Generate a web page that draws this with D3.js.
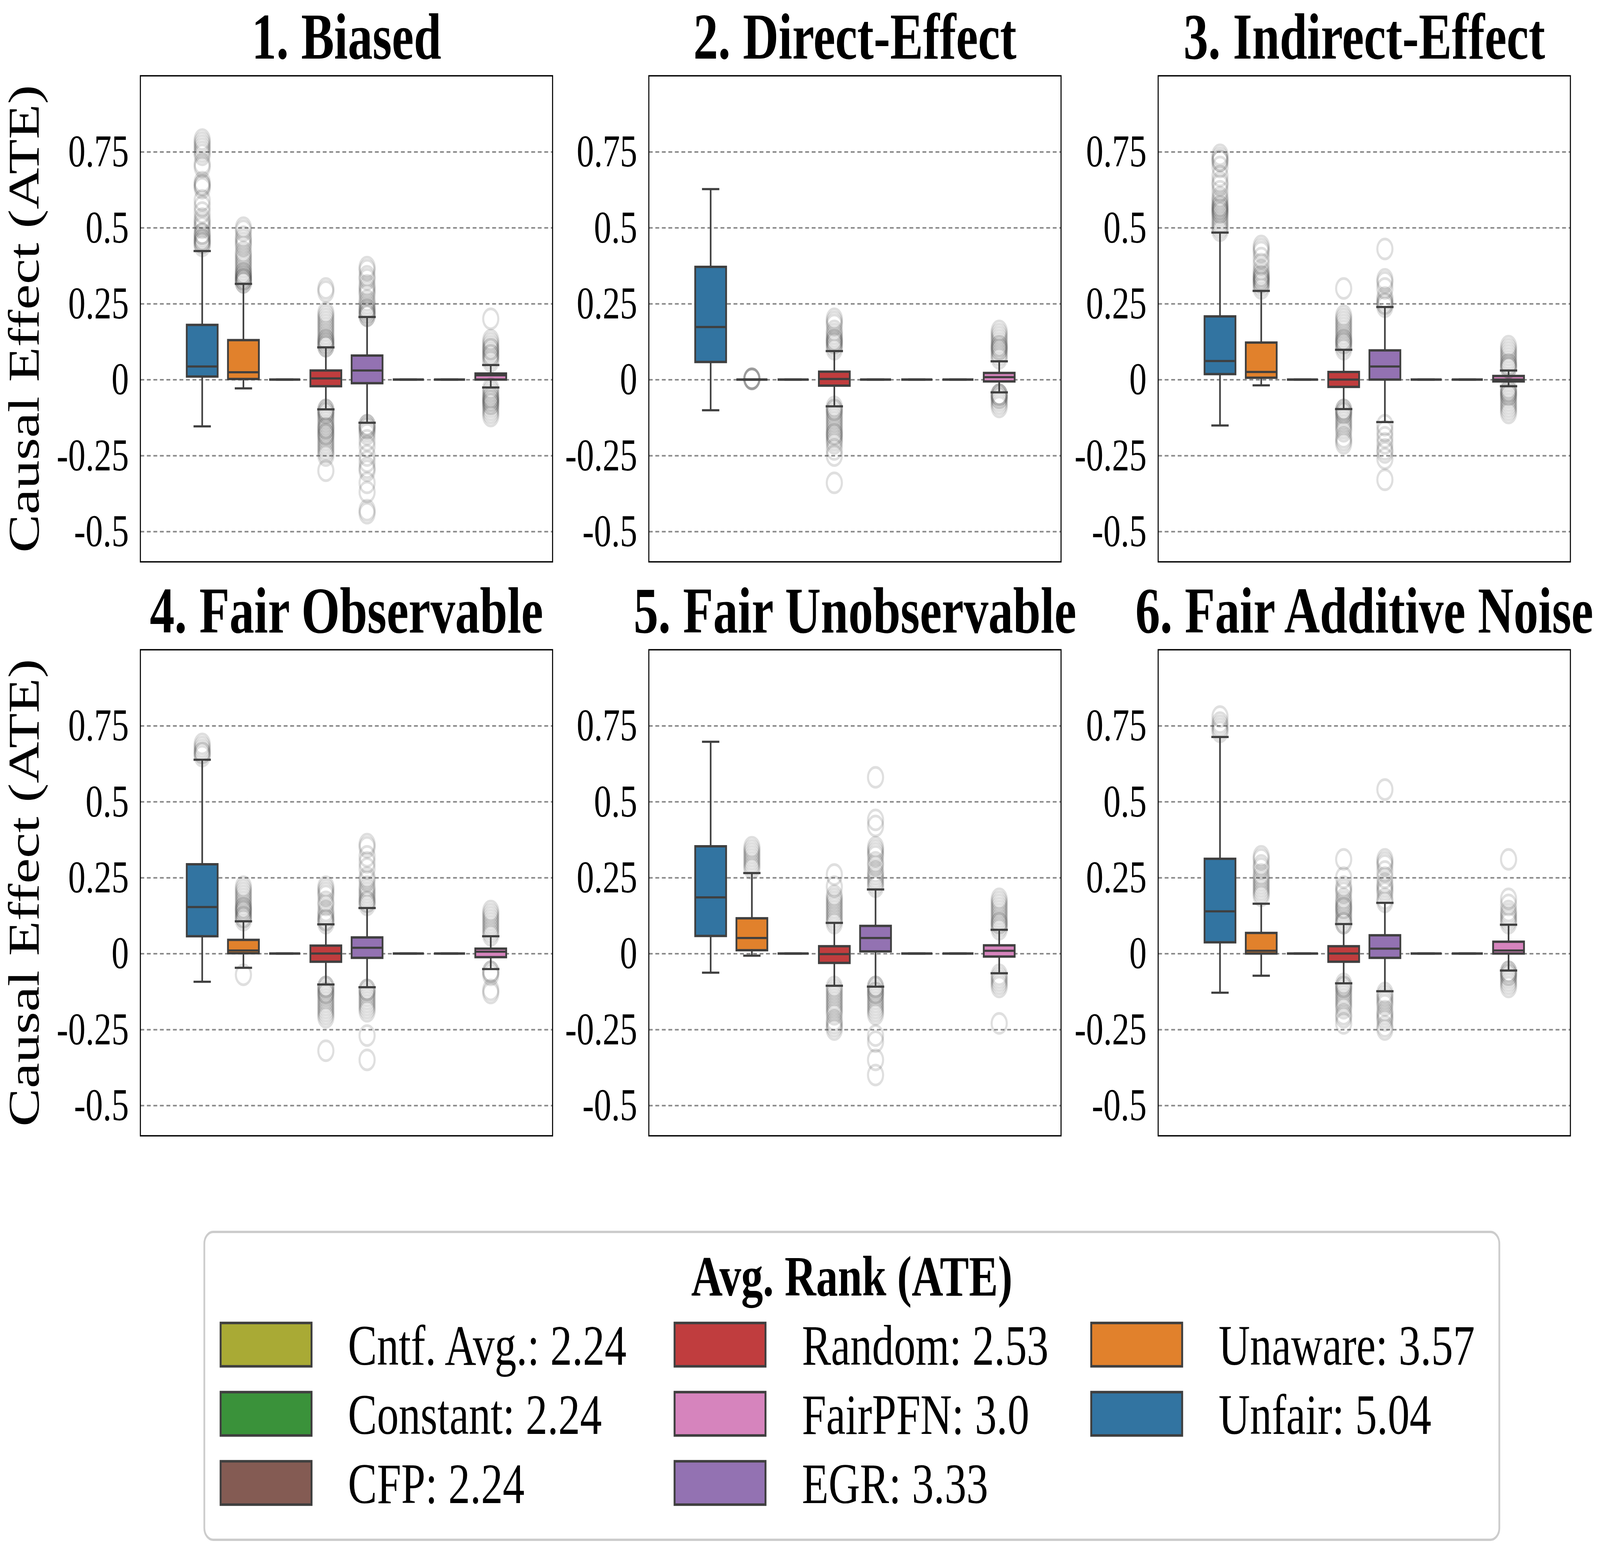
<!DOCTYPE html>
<html>
<head>
<meta charset="utf-8">
<script src="https://cdn.jsdelivr.net/npm/d3@7"></script>
<style>
  html, body { margin: 0; padding: 0; background: #fff; overflow: hidden; }
  svg { display: block; width: 100vw; height: 100vh; }
</style>
</head>
<body>
<div id="chart"></div>
<script>
// ---- data ----
const panelTitles = ["1. Biased", "2. Direct-Effect", "3. Indirect-Effect",
                     "4. Fair Observable", "5. Fair Unobservable", "6. Fair Additive Noise"];

// order of the boxes inside every panel
const methods = ["Unfair", "Unaware", "Constant", "Random", "EGR", "CFP", "Cntf. Avg.", "FairPFN"];
const methodColors = ["#3274a1", "#e1812c", "#3a923a", "#c03d3e", "#9372b2", "#845b53", "#a9aa35", "#d684bd"];

const yTicks = [0.75, 0.5, 0.25, 0, -0.25, -0.5];
const yTickLabels = ["0.75", "0.5", "0.25", "0", "-0.25", "-0.5"];

// box stats per method: [lower whisker, q1, median, q3, upper whisker]
const Z = [0, 0, 0, 0, 0];
const biasedStats = [
  [-0.154, 0.010, 0.043, 0.180, 0.423],
  [-0.029, 0.002, 0.024, 0.130, 0.315],
  Z,
  [-0.098, -0.022, 0.004, 0.030, 0.106],
  [-0.142, -0.012, 0.030, 0.079, 0.206],
  Z, Z,
  [-0.026, 0.000, 0.014, 0.020, 0.048]
];
const biasedOutliers = [
  [0.44, 0.45, 0.45, 0.46, 0.46, 0.47, 0.48, 0.48, 0.50, 0.51, 0.52, 0.53, 0.55, 0.57, 0.59, 0.63, 0.64, 0.64, 0.65, 0.70, 0.71, 0.74, 0.75, 0.76, 0.77, 0.78, 0.79],
  [0.32, 0.32, 0.33, 0.33, 0.33, 0.34, 0.34, 0.35, 0.35, 0.36, 0.37, 0.38, 0.39, 0.40, 0.41, 0.42, 0.44, 0.45, 0.46, 0.47, 0.49, 0.50],
  [],
  [0.11, 0.11, 0.12, 0.12, 0.13, 0.13, 0.14, 0.15, 0.16, 0.17, 0.18, 0.19, 0.20, 0.21, 0.22, 0.29, 0.30,
   -0.10, -0.10, -0.11, -0.11, -0.12, -0.13, -0.14, -0.15, -0.16, -0.16, -0.17, -0.18, -0.18, -0.19, -0.20, -0.21, -0.22, -0.23, -0.24, -0.25, -0.30],
  [0.21, 0.21, 0.22, 0.22, 0.23, 0.23, 0.24, 0.25, 0.26, 0.28, 0.29, 0.30, 0.31, 0.33, 0.34, 0.36, 0.37,
   -0.15, -0.15, -0.16, -0.16, -0.17, -0.18, -0.20, -0.22, -0.25, -0.27, -0.29, -0.30, -0.34, -0.37, -0.43, -0.44],
  [], [],
  [0.06, 0.07, 0.08, 0.08, 0.09, 0.10, 0.10, 0.11, 0.12, 0.13, 0.20,
   -0.03, -0.04, -0.05, -0.06, -0.06, -0.07, -0.07, -0.08, -0.08, -0.09, -0.10, -0.11, -0.12]
];

const directStats = [
  [-0.101, 0.058, 0.173, 0.371, 0.627],
  Z, Z,
  [-0.088, -0.020, 0.002, 0.026, 0.094],
  Z, Z, Z,
  [-0.042, -0.006, 0.008, 0.022, 0.060]
];
const directOutliers = [
  [],
  [0.002, 0.002, 0.003, 0.003],
  [],
  [0.10, 0.11, 0.12, 0.12, 0.13, 0.13, 0.14, 0.15, 0.16, 0.18, 0.19, 0.20,
   -0.09, -0.10, -0.10, -0.11, -0.12, -0.13, -0.14, -0.15, -0.16, -0.17, -0.18, -0.18, -0.19, -0.20, -0.21, -0.23, -0.25, -0.34],
  [], [], [],
  [0.07, 0.08, 0.09, 0.10, 0.10, 0.11, 0.11, 0.12, 0.13, 0.14, 0.15, 0.16,
   -0.05, -0.05, -0.05, -0.06, -0.06, -0.07, -0.08, -0.09]
];

const indirectStats = [
  [-0.151, 0.018, 0.061, 0.208, 0.484],
  [-0.019, 0.006, 0.025, 0.122, 0.292],
  Z,
  [-0.097, -0.024, 0.000, 0.025, 0.098],
  [-0.140, 0.000, 0.043, 0.096, 0.239],
  Z, Z,
  [-0.022, -0.006, 0.000, 0.012, 0.030]
];
const indirectOutliers = [
  [0.49, 0.50, 0.51, 0.52, 0.53, 0.54, 0.55, 0.55, 0.56, 0.56, 0.57, 0.57, 0.58, 0.59, 0.60, 0.62, 0.64, 0.65, 0.67, 0.70, 0.72, 0.72, 0.73, 0.74],
  [0.30, 0.31, 0.32, 0.32, 0.33, 0.33, 0.34, 0.34, 0.35, 0.36, 0.38, 0.40, 0.42, 0.43, 0.44],
  [],
  [0.10, 0.11, 0.12, 0.12, 0.13, 0.13, 0.14, 0.15, 0.16, 0.17, 0.18, 0.19, 0.20, 0.21, 0.30,
   -0.10, -0.10, -0.11, -0.11, -0.12, -0.13, -0.14, -0.15, -0.16, -0.17, -0.19, -0.20, -0.21],
  [0.24, 0.25, 0.25, 0.26, 0.27, 0.30, 0.32, 0.33, 0.43,
   -0.15, -0.17, -0.19, -0.21, -0.23, -0.24, -0.26, -0.33],
  [], [],
  [0.04, 0.04, 0.05, 0.05, 0.06, 0.07, 0.08, 0.09, 0.10, 0.11,
   -0.03, -0.04, -0.04, -0.05, -0.05, -0.06, -0.07, -0.08, -0.09, -0.10, -0.11]
];

const observableStats = [
  [-0.093, 0.057, 0.153, 0.294, 0.638],
  [-0.047, 0.001, 0.010, 0.045, 0.106],
  Z,
  [-0.102, -0.027, 0.000, 0.026, 0.096],
  [-0.111, -0.014, 0.019, 0.053, 0.150],
  Z, Z,
  [-0.051, -0.012, 0.006, 0.016, 0.057]
];
const observableOutliers = [
  [0.65, 0.66, 0.66, 0.67, 0.68, 0.69],
  [0.11, 0.12, 0.12, 0.13, 0.14, 0.14, 0.15, 0.15, 0.16, 0.17, 0.18, 0.19, 0.20, 0.21, 0.22, -0.07],
  [],
  [0.10, 0.11, 0.11, 0.12, 0.13, 0.14, 0.16, 0.17, 0.19, 0.20, 0.21, 0.22,
   -0.11, -0.11, -0.12, -0.13, -0.13, -0.14, -0.15, -0.16, -0.17, -0.18, -0.19, -0.20, -0.21, -0.32],
  [0.16, 0.17, 0.17, 0.18, 0.19, 0.20, 0.21, 0.22, 0.24, 0.25, 0.28, 0.30, 0.32, 0.35, 0.36,
   -0.12, -0.12, -0.13, -0.14, -0.15, -0.16, -0.17, -0.18, -0.19, -0.27, -0.35],
  [], [],
  [0.06, 0.07, 0.08, 0.09, 0.10, 0.11, 0.12, 0.13, 0.14, -0.06, -0.06, -0.07, -0.12, -0.13]
];

const unobservableStats = [
  [-0.063, 0.058, 0.185, 0.353, 0.697],
  [-0.007, 0.011, 0.051, 0.116, 0.265],
  Z,
  [-0.106, -0.031, -0.002, 0.024, 0.101],
  [-0.109, 0.007, 0.051, 0.091, 0.211],
  Z, Z,
  [-0.065, -0.010, 0.009, 0.027, 0.078]
];
const unobservableOutliers = [
  [],
  [0.28, 0.29, 0.30, 0.31, 0.32, 0.33, 0.34, 0.35],
  [],
  [0.10, 0.11, 0.12, 0.13, 0.14, 0.15, 0.16, 0.17, 0.18, 0.19, 0.22, 0.26,
   -0.11, -0.12, -0.13, -0.14, -0.15, -0.16, -0.17, -0.18, -0.19, -0.20, -0.22, -0.23, -0.24, -0.25],
  [0.22, 0.23, 0.24, 0.25, 0.26, 0.27, 0.29, 0.30, 0.32, 0.33, 0.34, 0.35, 0.42, 0.44, 0.58,
   -0.11, -0.11, -0.12, -0.13, -0.13, -0.14, -0.15, -0.16, -0.17, -0.18, -0.19, -0.20, -0.27, -0.29, -0.35, -0.40],
  [], [],
  [0.08, 0.09, 0.10, 0.10, 0.11, 0.12, 0.13, 0.14, 0.15, 0.16, 0.17, 0.18,
   -0.07, -0.08, -0.09, -0.10, -0.11, -0.23]
];

const additiveStats = [
  [-0.129, 0.037, 0.139, 0.312, 0.713],
  [-0.073, 0.000, 0.009, 0.068, 0.164],
  Z,
  [-0.098, -0.027, 0.000, 0.024, 0.097],
  [-0.124, -0.014, 0.016, 0.060, 0.167],
  Z, Z,
  [-0.056, 0.000, 0.010, 0.039, 0.095]
];
const additiveOutliers = [
  [0.73, 0.74, 0.75, 0.76, 0.78],
  [0.19, 0.20, 0.21, 0.22, 0.23, 0.24, 0.25, 0.26, 0.28, 0.29, 0.31, 0.32],
  [],
  [0.10, 0.10, 0.11, 0.12, 0.13, 0.14, 0.15, 0.15, 0.16, 0.17, 0.18, 0.20, 0.21, 0.22, 0.25, 0.31,
   -0.10, -0.11, -0.11, -0.12, -0.13, -0.14, -0.15, -0.16, -0.17, -0.18, -0.20, -0.21, -0.23],
  [0.17, 0.18, 0.20, 0.21, 0.22, 0.23, 0.25, 0.27, 0.29, 0.30, 0.31, 0.54,
   -0.13, -0.14, -0.15, -0.16, -0.17, -0.19, -0.20, -0.21, -0.22, -0.24, -0.25],
  [], [],
  [0.10, 0.11, 0.12, 0.13, 0.14, 0.16, 0.18, 0.31,
   -0.06, -0.06, -0.07, -0.07, -0.08, -0.09, -0.10, -0.11]
];

const panelStats = [biasedStats, directStats, indirectStats, observableStats, unobservableStats, additiveStats];
const panelOutliers = [biasedOutliers, directOutliers, indirectOutliers, observableOutliers, unobservableOutliers, additiveOutliers];

// legend, filled column by column
const legendNames = ["Cntf. Avg.", "Constant", "CFP", "Random", "FairPFN", "EGR", "Unaware", "Unfair"];
const legendRanks = ["2.24", "2.24", "2.24", "2.53", "3.0", "3.33", "3.57", "5.04"];

// ---- layout (figure units of the 5403 x 3962 original) ----
const W = 5403, H = 3962;
const plotW = 1392, plotH = 1244;
const colLeft = [474, 2191, 3911];
const rowTop = [194, 1663];
const serif = "'Liberation Serif', 'Times New Roman', Times, serif";
const lineCol = "#3f3f3f";

// the window may be narrower than the figure, so the figure is fitted to it
const svg = d3.select("#chart").append("svg")
  .attr("viewBox", [0, 0, W, H])
  .attr("preserveAspectRatio", "none")
  .style("background", "#fff")
  .attr("font-family", serif);

const y = d3.scaleLinear().domain([-0.6, 1.0]).range([plotH, 0]);
const x = d3.scaleBand().domain(methods).range([0, plotW]).paddingInner(0).paddingOuter(1);
const boxW = x.bandwidth() * 0.75;
const capHalf = boxW * 0.28;

panelTitles.forEach((title, i) => {
  const g = svg.append("g")
    .attr("transform", `translate(${colLeft[i % 3]},${rowTop[Math.floor(i / 3)]})`);

  // dashed grid
  g.append("g")
    .call(d3.axisLeft(y).tickValues(yTicks).tickSize(-plotW).tickFormat(""))
    .call(a => a.select(".domain").remove())
    .call(a => a.selectAll(".tick line")
      .attr("stroke", "#8a8a8a")
      .attr("stroke-width", 4)
      .attr("stroke-dasharray", "13,9"));

  // tick labels
  g.append("g")
    .call(d3.axisLeft(y).tickValues(yTicks).tickSize(0).tickPadding(39)
      .tickFormat((d, k) => yTickLabels[k]))
    .call(a => a.select(".domain").remove())
    .attr("font-family", serif)
    .attr("font-size", 117)
    .call(a => a.selectAll("text").attr("fill", "#000"));

  const stats = panelStats[i];
  const outs = panelOutliers[i];

  const bx = g.append("g").selectAll("g")
    .data(methods)
    .join("g")
    .attr("transform", m => `translate(${x(m) + x.bandwidth() / 2},0)`);

  // whiskers
  bx.append("line")
    .attr("y1", (m, k) => y(stats[k][3])).attr("y2", (m, k) => y(stats[k][4]))
    .attr("stroke", lineCol).attr("stroke-width", 5.5);
  bx.append("line")
    .attr("y1", (m, k) => y(stats[k][1])).attr("y2", (m, k) => y(stats[k][0]))
    .attr("stroke", lineCol).attr("stroke-width", 5.5);
  // caps
  [0, 4].forEach(idx => {
    bx.append("line")
      .attr("x1", -capHalf).attr("x2", capHalf)
      .attr("y1", (m, k) => y(stats[k][idx])).attr("y2", (m, k) => y(stats[k][idx]))
      .attr("stroke", lineCol).attr("stroke-width", 5.5);
  });
  // box
  bx.append("path")
    .attr("d", (m, k) => {
      const t = y(stats[k][3]), b = y(stats[k][1]);
      return `M${-boxW / 2},${t}H${boxW / 2}V${b}H${-boxW / 2}Z`;
    })
    .attr("fill", (m, k) => methodColors[k])
    .attr("stroke", lineCol)
    .attr("stroke-width", 6);
  // median
  bx.append("line")
    .attr("x1", -boxW / 2).attr("x2", boxW / 2)
    .attr("y1", (m, k) => y(stats[k][2])).attr("y2", (m, k) => y(stats[k][2]))
    .attr("stroke", lineCol).attr("stroke-width", 5.5);
  // fliers
  bx.each(function (m, k) {
    d3.select(this).selectAll("circle")
      .data(outs[k])
      .join("circle")
      .attr("cy", v => y(v))
      .attr("r", 25.5)
      .attr("fill", "none")
      .attr("stroke", "#404040")
      .attr("stroke-opacity", 0.17)
      .attr("stroke-width", 7);
  });

  // frame
  g.append("rect")
    .attr("width", plotW).attr("height", plotH)
    .attr("fill", "none").attr("stroke", "#000").attr("stroke-width", 3.5);

  // title
  g.append("text")
    .attr("x", plotW / 2).attr("y", -44)
    .attr("text-anchor", "middle")
    .attr("font-weight", "bold")
    .attr("font-size", 167)
    .text(title);

  if (i % 3 === 0) {
    g.append("text")
      .attr("transform", `translate(${130 - colLeft[0]},${plotH / 2}) rotate(-90)`)
      .attr("text-anchor", "middle")
      .attr("font-size", 147)
      .text("Causal Effect (ATE)");
  }
});

// ---- legend ----
const lg = svg.append("g").attr("transform", "translate(690,3153)");
lg.append("rect")
  .attr("width", 4373).attr("height", 788)
  .attr("rx", 30)
  .attr("fill", "#fff")
  .attr("stroke", "#cccccc")
  .attr("stroke-width", 6);
lg.append("text")
  .attr("x", 4373 / 2).attr("y", 163)
  .attr("text-anchor", "middle")
  .attr("font-weight", "bold")
  .attr("font-size", 147)
  .text("Avg. Rank (ATE)");

const legColX = [55, 1588, 2995];
const legRowY = [288, 465, 642];
const colorOf = name => methodColors[methods.indexOf(name)];

const items = lg.selectAll("g.item")
  .data(legendNames)
  .join("g")
  .attr("class", "item")
  .attr("transform", (d, k) => `translate(${legColX[Math.floor(k / 3)]},${legRowY[k % 3]})`);
items.append("rect")
  .attr("x", 0).attr("y", -55)
  .attr("width", 307).attr("height", 111)
  .attr("fill", d => colorOf(d))
  .attr("stroke", lineCol)
  .attr("stroke-width", 6.5);
items.append("text")
  .attr("x", 430).attr("y", 52)
  .attr("font-size", 147)
  .text((d, k) => `${d}: ${legendRanks[k]}`);
</script>
</body>
</html>
